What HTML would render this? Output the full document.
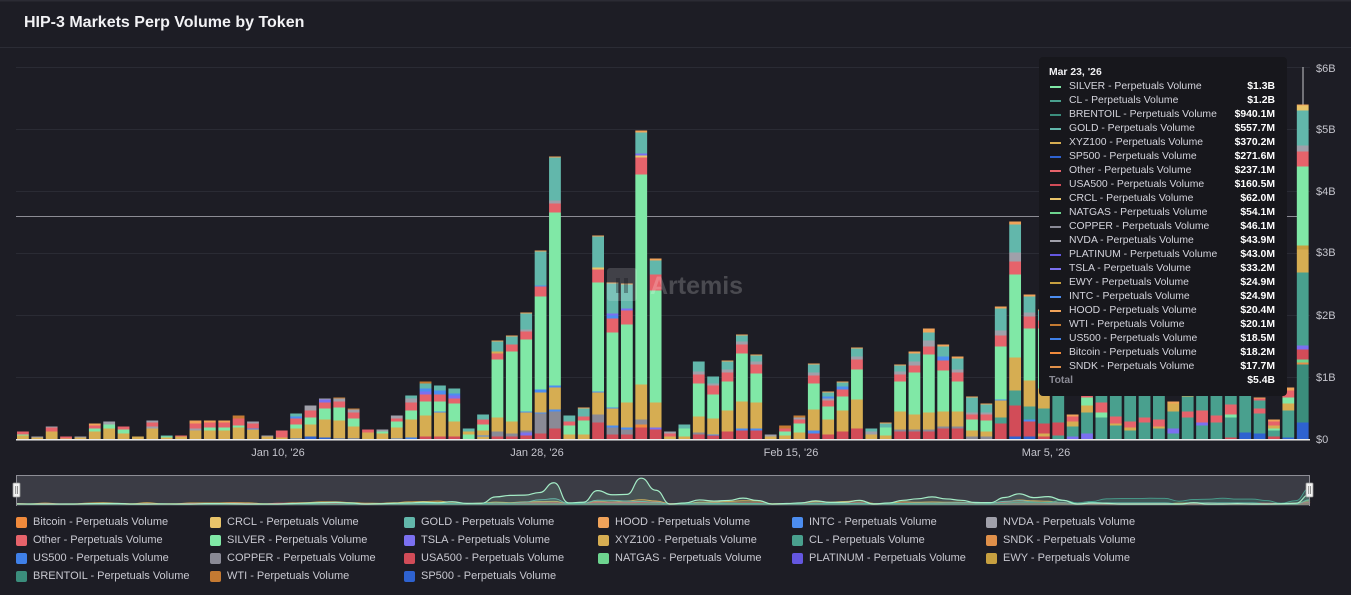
<!DOCTYPE html>
<html>
<head>
<meta charset="utf-8">
<style>
html,body{margin:0;padding:0}
body{width:1351px;height:595px;background:#1d1d25;overflow:hidden;position:relative;font-family:"Liberation Sans",Arial,sans-serif}
#c{position:absolute;left:0;top:0}
.title{position:absolute;left:24px;top:13px;font-size:16px;line-height:20px;font-weight:bold;color:#f2f2f5;white-space:nowrap}
.ya{position:absolute;left:1316px;font-size:11px;line-height:14px;color:#c4c4cc}
.xa{position:absolute;width:100px;text-align:center;top:446px;font-size:11px;line-height:14px;color:#c4c4cc;white-space:nowrap}
.tip{position:absolute;left:1039px;top:57px;width:248px;height:339px;background:#17171c;border-radius:4px}
.th{position:absolute;left:1049px;top:66px;font-size:10.4px;line-height:14px;font-weight:bold;color:#f0f0f3}
.tr{position:absolute;left:1050px;width:225px;height:14px;line-height:14px;font-size:10.4px;color:#d4d4dc;white-space:nowrap}
.tr i{position:absolute;left:0;top:6px;width:11px;height:2px}
.tr span{position:absolute;left:19px}
.tr b{position:absolute;right:0;color:#fff;font-weight:bold}
.lg{position:absolute;font-size:11px;line-height:14px;height:14px;color:#c8c8d0;padding-left:17px;white-space:nowrap}
.lg i{position:absolute;left:0;top:2px;width:11px;height:11px;border-radius:2px}
.wm{position:absolute;left:650px;top:271px;font-size:25px;line-height:30px;font-weight:bold;color:rgba(255,255,255,0.2)}
.logo{position:absolute;left:607px;top:268px;width:30px;height:33px;background:rgba(255,255,255,0.16);border-radius:3px}
.logo:before{content:"";position:absolute;left:9px;top:10px;width:4px;height:15px;background:rgba(20,20,28,0.35)}
.logo:after{content:"";position:absolute;left:17px;top:10px;width:4px;height:15px;background:rgba(20,20,28,0.35)}
</style>
</head>
<body>
<svg id="c" width="1351" height="595" xmlns="http://www.w3.org/2000/svg">
  <rect x="0" y="0" width="1351" height="1.5" fill="#2b2b34"/>
  <rect x="0" y="47" width="1351" height="1" fill="#2b2c35"/>
  <g id="grid" fill="#2a2b34">
    <rect x="16" y="67" width="1294" height="1"/>
    <rect x="16" y="129" width="1294" height="1"/>
    <rect x="16" y="191" width="1294" height="1"/>
    <rect x="16" y="253" width="1294" height="1"/>
    <rect x="16" y="315" width="1294" height="1"/>
    <rect x="16" y="377" width="1294" height="1"/>
  </g>
  <rect x="16" y="216" width="1284" height="1" fill="#8c8c94"/>
  <rect x="1302.5" y="67" width="1" height="372" fill="#c8c8cc"/>
  <g id="bars"></g>
  <rect x="16" y="439" width="1294" height="1.5" fill="#ececec"/>
  <rect x="16" y="475" width="1294" height="31" fill="#3b3c45"/>
  <g id="nav"></g>
  <rect x="16" y="475" width="1294" height="1" fill="#8e8e96"/>
  <rect x="16" y="475" width="1" height="31" fill="#8e8e96"/>
  <rect x="1309" y="475" width="1" height="31" fill="#8e8e96"/>
  <rect x="13" y="483" width="7" height="14" rx="1" fill="#f2f2f2" stroke="#9a9a9a" stroke-width="0.8"/>
  <rect x="15.3" y="486" width="0.8" height="8" fill="#777"/>
  <rect x="17.1" y="486" width="0.8" height="8" fill="#777"/>
  <rect x="1306" y="483" width="7" height="14" rx="1" fill="#f2f2f2" stroke="#9a9a9a" stroke-width="0.8"/>
  <rect x="1308.3" y="486" width="0.8" height="8" fill="#777"/>
  <rect x="1310.1" y="486" width="0.8" height="8" fill="#777"/>
</svg>

<div class="title">HIP-3 Markets Perp Volume by Token</div>

<div class="logo"></div>
<div class="wm">Artemis</div>

<div class="ya" style="top:62px">$6B</div>
<div class="ya" style="top:123px">$5B</div>
<div class="ya" style="top:185px">$4B</div>
<div class="ya" style="top:246px">$3B</div>
<div class="ya" style="top:309px">$2B</div>
<div class="ya" style="top:371px">$1B</div>
<div class="ya" style="top:433px">$0</div>

<div class="xa" style="left:228px">Jan 10, '26</div>
<div class="xa" style="left:487px">Jan 28, '26</div>
<div class="xa" style="left:741px">Feb 15, '26</div>
<div class="xa" style="left:996px">Mar 5, '26</div>

<div class="tip"></div>
<div class="th">Mar 23, '26</div>
<div class="tr" style="top:80px"><i style="background:#80e8a6"></i><span>SILVER - Perpetuals Volume</span><b>$1.3B</b></div>
<div class="tr" style="top:94px"><i style="background:#49a08e"></i><span>CL - Perpetuals Volume</span><b>$1.2B</b></div>
<div class="tr" style="top:108px"><i style="background:#3b8d7c"></i><span>BRENTOIL - Perpetuals Volume</span><b>$940.1M</b></div>
<div class="tr" style="top:122px"><i style="background:#62b7ab"></i><span>GOLD - Perpetuals Volume</span><b>$557.7M</b></div>
<div class="tr" style="top:136px"><i style="background:#d6ad52"></i><span>XYZ100 - Perpetuals Volume</span><b>$370.2M</b></div>
<div class="tr" style="top:150px"><i style="background:#2e62d0"></i><span>SP500 - Perpetuals Volume</span><b>$271.6M</b></div>
<div class="tr" style="top:164px"><i style="background:#e6636b"></i><span>Other - Perpetuals Volume</span><b>$237.1M</b></div>
<div class="tr" style="top:178px"><i style="background:#d24c58"></i><span>USA500 - Perpetuals Volume</span><b>$160.5M</b></div>
<div class="tr" style="top:192px"><i style="background:#e9c46a"></i><span>CRCL - Perpetuals Volume</span><b>$62.0M</b></div>
<div class="tr" style="top:206px"><i style="background:#6dd48f"></i><span>NATGAS - Perpetuals Volume</span><b>$54.1M</b></div>
<div class="tr" style="top:220px"><i style="background:#8a8a96"></i><span>COPPER - Perpetuals Volume</span><b>$46.1M</b></div>
<div class="tr" style="top:234px"><i style="background:#a0a0aa"></i><span>NVDA - Perpetuals Volume</span><b>$43.9M</b></div>
<div class="tr" style="top:248px"><i style="background:#6457e0"></i><span>PLATINUM - Perpetuals Volume</span><b>$43.0M</b></div>
<div class="tr" style="top:262px"><i style="background:#7b70f0"></i><span>TSLA - Perpetuals Volume</span><b>$33.2M</b></div>
<div class="tr" style="top:276px"><i style="background:#c7a040"></i><span>EWY - Perpetuals Volume</span><b>$24.9M</b></div>
<div class="tr" style="top:290px"><i style="background:#4c8df0"></i><span>INTC - Perpetuals Volume</span><b>$24.9M</b></div>
<div class="tr" style="top:304px"><i style="background:#f0a35a"></i><span>HOOD - Perpetuals Volume</span><b>$20.4M</b></div>
<div class="tr" style="top:318px"><i style="background:#c47a32"></i><span>WTI - Perpetuals Volume</span><b>$20.1M</b></div>
<div class="tr" style="top:332px"><i style="background:#3f80e8"></i><span>US500 - Perpetuals Volume</span><b>$18.5M</b></div>
<div class="tr" style="top:346px"><i style="background:#f08a3c"></i><span>Bitcoin - Perpetuals Volume</span><b>$18.2M</b></div>
<div class="tr" style="top:360px"><i style="background:#e0904a"></i><span>SNDK - Perpetuals Volume</span><b>$17.7M</b></div>
<div class="tr" style="top:374px"><span style="left:-1px;color:#8a8a94;font-weight:bold">Total</span><b>$5.4B</b></div>

<div class="lg" style="left:16px;top:515px"><i style="background:#f08a3c"></i>Bitcoin - Perpetuals Volume</div>
<div class="lg" style="left:210px;top:515px"><i style="background:#e9c46a"></i>CRCL - Perpetuals Volume</div>
<div class="lg" style="left:404px;top:515px"><i style="background:#62b7ab"></i>GOLD - Perpetuals Volume</div>
<div class="lg" style="left:598px;top:515px"><i style="background:#f0a35a"></i>HOOD - Perpetuals Volume</div>
<div class="lg" style="left:792px;top:515px"><i style="background:#4c8df0"></i>INTC - Perpetuals Volume</div>
<div class="lg" style="left:986px;top:515px"><i style="background:#a0a0aa"></i>NVDA - Perpetuals Volume</div>

<div class="lg" style="left:16px;top:533px"><i style="background:#e6636b"></i>Other - Perpetuals Volume</div>
<div class="lg" style="left:210px;top:533px"><i style="background:#80e8a6"></i>SILVER - Perpetuals Volume</div>
<div class="lg" style="left:404px;top:533px"><i style="background:#7b70f0"></i>TSLA - Perpetuals Volume</div>
<div class="lg" style="left:598px;top:533px"><i style="background:#d6ad52"></i>XYZ100 - Perpetuals Volume</div>
<div class="lg" style="left:792px;top:533px"><i style="background:#49a08e"></i>CL - Perpetuals Volume</div>
<div class="lg" style="left:986px;top:533px"><i style="background:#e0904a"></i>SNDK - Perpetuals Volume</div>

<div class="lg" style="left:16px;top:551px"><i style="background:#3f80e8"></i>US500 - Perpetuals Volume</div>
<div class="lg" style="left:210px;top:551px"><i style="background:#8a8a96"></i>COPPER - Perpetuals Volume</div>
<div class="lg" style="left:404px;top:551px"><i style="background:#d24c58"></i>USA500 - Perpetuals Volume</div>
<div class="lg" style="left:598px;top:551px"><i style="background:#6dd48f"></i>NATGAS - Perpetuals Volume</div>
<div class="lg" style="left:792px;top:551px"><i style="background:#6457e0"></i>PLATINUM - Perpetuals Volume</div>
<div class="lg" style="left:986px;top:551px"><i style="background:#c7a040"></i>EWY - Perpetuals Volume</div>

<div class="lg" style="left:16px;top:569px"><i style="background:#3b8d7c"></i>BRENTOIL - Perpetuals Volume</div>
<div class="lg" style="left:210px;top:569px"><i style="background:#c47a32"></i>WTI - Perpetuals Volume</div>
<div class="lg" style="left:404px;top:569px"><i style="background:#2e62d0"></i>SP500 - Perpetuals Volume</div>

<script>
(function(){
var NS="http://www.w3.org/2000/svg";
var C={g:'#d6ad52',s:'#80e8a6',t:'#62b7ab',r:'#e6636b',R:'#d24c58',c:'#8a8a96',n:'#a0a0aa',b:'#3f80e8',B:'#2e62d0',p:'#6457e0',v:'#7b70f0',o:'#f08a3c',y:'#e9c46a',h:'#f0a35a',L:'#49a08e',T:'#3b8d7c',N:'#6dd48f',w:'#c47a32',e:'#c7a040',k:'#e0904a',i:'#4c8df0'};
var D="g4 s1 r3|g2 n1|g8 r4 n1|g1 r2|g2 n1|g8 s3 r3 h2|g11 s4 n3|g6 s4 r3|g3|g11 n2 r4 n2|g2 s1 t1|g3 r1|g9 n2 r5 h3|g9 s3 r5 h2|g9 s3 r5 h2|g12 s2 r7 w3|g10 i1 r5 n2|g3 n1|g2 r7|b1 g10 s4 r6 i2 t3|B3 g12 s7 r7 n5|B2 g18 s11 r6 v3 n1|B1 g18 s13 r6 n3 w1|B1 g12 s8 r6 n3 w1|g7 r3|g6 s2 n2|b1 g11 s6 r3 n3|b2 g18 s9 r8 n4 t3|R3 g21 s14 r7 v3 i3 t5 w2|R3 g24 i1 s10 r7 i4 t5|R3 g15 s18 r5 v3 i2 t5|s5 g3 t3|g3 i1 g5 s6 r5 t5|R3 c5 g14 s58 r6 g2 t10 h1|R3 c3 g12 s70 r7 t8 h1|R4 v3 c2 g18 i1 s72 r8 n2 t16 h1|R6 c20 i1 g20 i3 s93 r10 i1 t34 h1|R11 c17 i2 g22 i2 s173 r9 n3 t43 h1|g5 s9 r4 t6|g5 s14 r4 t8 h1|R17 c8 g22 i1 s109 r13 y2 t31 h1|R5 c7 i2 g17 i1 s75 r14 i3 v2 t30 h1|R5 c5 i2 g25 s78 r14 v2 t24 h1|R12 o3 c5 g35 s210 r17 y2 v2 t21 h2|R10 v2 g25 s112 r16 t14 h2|g3 r3 n2|g3 s8 t4|R5 c2 g16 s33 r9 n3 t10|R4 i1 g16 s24 r9 n2 t7|R8 g21 s29 r9 n3 t8 h1|R9 i2 g27 s48 r9 n3 t6 h1|R9 i2 g26 s29 r9 n3 t6 h1|g3 n2|g4 s4 r3 w3|g7 s9 r4 n2 w2|R6 i3 g21 s26 r8 n3 t8 h1|R5 g15 s13 r6 n2 i2 t4 h1|R8 g21 s14 r7 i3 t4 h1|R11 g29 s30 r10 n3 t8 h1|g5 n3 t3|g4 s8 t4 h1|R8 c2 g18 s30 r7 n3 t6 h1|R8 c2 g15 s42 r7 n4 t8 h2|R8 c2 g17 s58 r8 n6 t8 h4|R11 c2 g15 s41 r10 i4 t10 h2|R11 c2 g15 s30 r9 n3 t11 h2|c3 g6 s11 r5 n2 t15 h1|c3 g5 s11 r6 n2 t8 h1|R16 L6 g17 i1 s53 r11 n5 t22 h2|B3 R31 L15 g33 s83 r13 n9 t28 h3|B3 R15 i2 L13 g26 s52 r12 n4 t16 h2|R3 g3 R10 L15 g20 s60 r8 t10 h1|L4 R13 L27 g10 s30 r8 t10|v3 L10 g5 r5 h2|v6 L21 g7 s8 r10 t15|L22 s5 r10 L20 t10|L14 g2 r7 L30 t10|L9 g3 r6 L35 t10|L17 r5 L30 t10|L11 g2 r7 L35 t10|L6 v5 L17 g8 h2|L22 r6 L15 g10 s10 t10|L14 v3 r12 L25 t10|L17 r7 L30 t10|R2 L20 s3 r10 L20 t10|B7 L40 r8 t10|B6 L20 r5 L8 r2 h1|R3 L6 s2 g3 r4 h2|B2 L27 g7 s6 r7 h3|B17 T58 k2 N3 R10 v4 L73 g23 e4 s79 r15 n6 t35 y5 h1".split("|");
var bars=document.getElementById("bars");
var sums=[];
for(var i=0;i<D.length;i++){
  var x=17+i*14.38, y=439.5, toks=D[i].split(" "), acc={};
  for(var j=0;j<toks.length;j++){
    var k=toks[j].charAt(0), v=parseFloat(toks[j].slice(1));
    acc[k]=(acc[k]||0)+v;
    var r=document.createElementNS(NS,"rect");
    r.setAttribute("x",x.toFixed(2));
    r.setAttribute("y",(y-v).toFixed(2));
    r.setAttribute("width","11.8");
    r.setAttribute("height",v);
    r.setAttribute("fill",C[k]);
    bars.appendChild(r);
    y-=v;
  }
  sums.push(acc);
}
var nav=document.getElementById("nav");
function series(keys,color,fillOp,sw){
  var pts=[];
  for(var i=0;i<sums.length;i++){
    var v=0;for(var q=0;q<keys.length;q++){v+=sums[i][keys[q]]||0;}
    pts.push([16+i*14.54,504-v*0.123]);
  }
  var d="M"+pts[0][0]+","+pts[0][1];
  for(var i=1;i<pts.length;i++){
    var p0=pts[i-1],p1=pts[i],mx=(p0[0]+p1[0])/2;
    d+=" C"+mx+","+p0[1]+" "+mx+","+p1[1]+" "+p1[0]+","+p1[1];
  }
  if(fillOp>0){
    var a=document.createElementNS(NS,"path");
    a.setAttribute("d",d+" L1310,505 L16,505 Z");
    a.setAttribute("fill",color);
    a.setAttribute("fill-opacity",fillOp);
    nav.appendChild(a);
  }
  var l=document.createElementNS(NS,"path");
  l.setAttribute("d",d);
  l.setAttribute("fill","none");
  l.setAttribute("stroke",color);
  l.setAttribute("stroke-width",sw);
  nav.appendChild(l);
}
series(["g","e"],"#d6ad52",0.35,0.8);
series(["r"],"#e6636b",0.3,0.8);
series(["R"],"#d24c58",0.25,0.7);
series(["t"],"#62b7ab",0.25,0.8);
series(["L","T"],"#49a08e",0.25,0.9);
series(["s"],"#a4ecc6",0.12,1.2);
})();
</script>
</body>
</html>
